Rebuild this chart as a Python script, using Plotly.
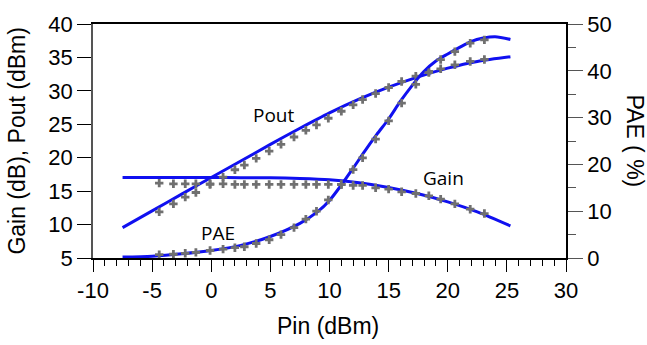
import plotly.graph_objects as go

# Measured data (gray crosses)
pin_meas = [-4.4, -3.2, -2.2, -1.3, -0.1, 1.0, 2.0, 2.8, 3.8, 4.9, 5.9, 7.0, 8.0, 8.9,
            9.9, 11.0, 12.0, 12.8, 13.9, 15.0, 16.1, 17.3, 18.4, 19.4, 20.6, 21.9, 23.1]
pout_meas = [11.9, 13.1, 14.1, 14.8, 16.0, 17.1, 18.2, 18.9, 19.9, 21.0, 22.0, 23.1, 24.1, 24.9,
             25.9, 26.95, 27.9, 28.7, 29.6, 30.5, 31.4, 32.2, 32.9, 33.3, 33.9, 34.4, 34.7]
gain_meas = [16.2, 16.1, 16.1, 16.1, 16.1, 16.1, 16.0, 16.0, 16.0, 16.0, 16.0, 16.0, 16.0, 16.0,
             16.0, 16.0, 15.85, 15.85, 15.5, 15.3, 14.9, 14.65, 14.3, 13.8, 13.1, 12.3, 11.65]
pae_meas = [0.7, 0.8, 1.0, 1.2, 1.6, 1.9, 2.2, 2.4, 3.1, 3.9, 5.0, 6.5, 8.3, 10.0,
            12.4, 15.7, 18.9, 21.4, 25.4, 29.3, 33.1, 37.1, 39.6, 42.4, 44.1, 45.9, 46.6]

# Simulated data (blue lines)
pin_sim = [-7.5, -5, -2.5, 0, 2.5, 5, 7.5, 10, 12.5, 15, 17.5, 20, 22.5, 25.3]
gain_sim = [17.05, 17.05, 17.05, 17.05, 17.0, 17.0, 16.9, 16.7, 16.25, 15.55, 14.6, 13.4, 11.9, 9.8]
pout_sim = [9.55, 12.05, 14.55, 17.05, 19.5, 22.0, 24.4, 26.7, 28.75, 30.55, 32.1, 33.4, 34.4, 35.1]
pin_sim_pae = [-7.5, -5, -2.5, 0, 2.5, 5, 7.5, 9, 10, 11, 12, 13, 14, 15, 16, 17, 18, 19,
               20, 21, 22, 23, 24, 25.3]
pae_sim = [0.2, 0.4, 0.9, 1.6, 2.7, 4.6, 7.4, 9.9, 12.3, 15.6, 19.2, 22.9, 26.4, 29.7, 33.5,
           36.9, 39.9, 42.1, 43.6, 45.0, 46.3, 47.0, 47.3, 46.7]

x_ticks = [-10, -5, 0, 5, 10, 15, 20, 25, 30]
x_tick_text = ["-10", "-5", "0", "5", "10", "15", "20", "25", "30"]
y_left_ticks = [5, 10, 15, 20, 25, 30, 35, 40]
y_right_ticks = [0, 10, 20, 30, 40, 50]

BLUE = "#1010F0"
GRAY = "#707070"
tickfont = dict(family="Liberation Sans, Arial", size=22, color="black")

fig = go.Figure()
line_style = dict(color=BLUE, width=3, shape="spline", smoothing=0.8)
fig.add_trace(go.Scatter(x=pin_sim, y=gain_sim, mode="lines", line=line_style, showlegend=False))
fig.add_trace(go.Scatter(x=pin_sim, y=pout_sim, mode="lines", line=line_style, showlegend=False))
fig.add_trace(go.Scatter(x=pin_sim_pae, y=pae_sim, mode="lines", line=line_style,
                         yaxis="y2", showlegend=False))
mk = dict(symbol="cross", size=7, color=GRAY, line=dict(width=0))
fig.add_trace(go.Scatter(x=pin_meas, y=gain_meas, mode="markers", marker=mk, showlegend=False))
fig.add_trace(go.Scatter(x=pin_meas, y=pout_meas, mode="markers", marker=mk, showlegend=False))
fig.add_trace(go.Scatter(x=pin_meas, y=pae_meas, mode="markers", marker=mk,
                         yaxis="y2", showlegend=False))

fig.update_layout(
    width=647, height=345,
    margin=dict(l=93, r=81, t=16, b=87),
    plot_bgcolor="white", paper_bgcolor="white",
    xaxis=dict(range=[-10, 30], tickvals=x_ticks, ticktext=x_tick_text, ticks="outside",
               ticklen=12, tickcolor="black", showline=True, linecolor="black", linewidth=1.5,
               mirror=True, showgrid=False, zeroline=False, tickfont=tickfont,
               minor=dict(dtick=1, ticks="outside", ticklen=6, tickcolor="black")),
    yaxis=dict(range=[5, 40], tickvals=y_left_ticks, ticks="outside", ticklen=14,
               tickcolor="black", showline=True, linecolor="#555", linewidth=1.5,
               showgrid=False, zeroline=False, tickfont=tickfont),
    yaxis2=dict(range=[0, 50], tickvals=y_right_ticks, ticks="outside", ticklen=15,
                tickcolor="#555", overlaying="y", side="right", showline=True,
                linecolor="black", linewidth=1.5, showgrid=False, zeroline=False,
                tickfont=tickfont,
                minor=dict(dtick=5, ticks="outside", ticklen=8, tickcolor="#555")),
)

titlefont = dict(family="Liberation Sans, Arial", size=23, color="black")
labfont = dict(family="Open Sans", size=19, color="black")
fig.add_annotation(text="Pin (dBm)", xref="paper", yref="paper", x=0.497, y=-0.29,
                   showarrow=False, font=titlefont, xanchor="center", yanchor="middle")
fig.add_annotation(text="Gain (dB), Pout (dBm)", xref="paper", yref="paper", x=-0.1615, y=0.5,
                   showarrow=False, font=titlefont, textangle=-90, xanchor="center", yanchor="middle")
fig.add_annotation(text="PAE ( %)", xref="paper", yref="paper", x=1.145, y=0.5,
                   showarrow=False, font=titlefont, textangle=90, xanchor="center", yanchor="middle")
fig.add_annotation(text="Pout", x=5.3, y=26.4, showarrow=False, font=labfont)
fig.add_annotation(text="Gain", x=19.6, y=17.0, showarrow=False, font=labfont)
fig.add_annotation(text="PAE", x=0.6, y=8.8, showarrow=False, font=labfont)

fig.write_html("out.html", config={"displayModeBar": False},
               post_script="document.body.style.margin='0';")
